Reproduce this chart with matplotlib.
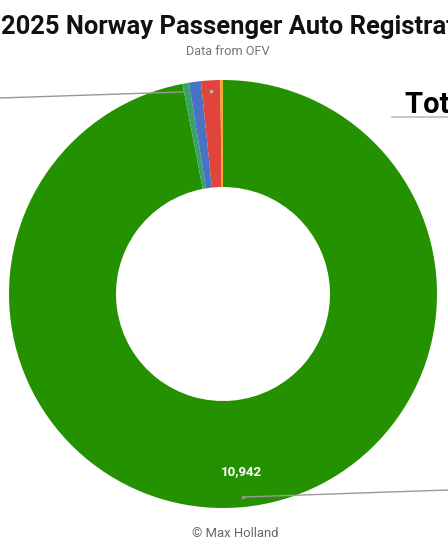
import matplotlib
matplotlib.use("Agg")
import matplotlib.pyplot as plt

# registrations by fuel type
labels = ["BEV", "PHEV", "Hybrid", "Petrol", "Diesel"]
counts = [10942, 55, 101, 163, 23]
colors = ["#249100", "#38a46a", "#4a72c4", "#e0443a", "#f5a623"]

W, H = 448, 560
fig = plt.figure(figsize=(W / 100, H / 100), dpi=100)
ax = fig.add_axes([0, 0, 1, 1])

def Y(py):
    # pixel row -> data y
    return H - py

cx, cy, r = 223, Y(294), 214

wedges, _ = ax.pie(counts, colors=colors, startangle=90, counterclock=False,
                   center=(cx, cy), radius=r, frame=True,
                   wedgeprops=dict(width=r * 0.5, linewidth=0))
ax.set_xlim(0, W)
ax.set_ylim(0, H)
ax.set_aspect("equal")
ax.axis("off")

plt.rcParams["font.family"] = ["Roboto", "DejaVu Sans"]

# title etc.
ax.text(1, Y(34), "2025 Norway Passenger Auto Registrations", fontsize=18.4,
        fontweight="bold", ha="left", va="baseline", color="#111111")
ax.text(228, Y(55), "Data from OFV", fontsize=9.2, ha="center",
        va="baseline", color="#757575")
ax.text(235, Y(537), "\u00a9 Max Holland", fontsize=9.4, ha="center",
        va="baseline", color="#666666")

# value label on the big slice
ax.text(241, Y(472), f"{counts[0]:,}", fontsize=9.5, fontweight="bold",
        ha="center", va="center", color="white")

# leader lines (the small slices sit on top of the left one)
ax.plot([0, 211], [Y(98), Y(91)], color="#999999", lw=1, zorder=0.5)
for w in wedges[1:]:
    w.set_zorder(1)
ax.plot([211], [Y(91)], "o", ms=1.5, color="#bbbbbb", zorder=5)
ax.plot([243, W], [Y(497), Y(490)], color="#999999", lw=1, zorder=5)
ax.plot([243], [Y(497)], "o", ms=1.5, color="#999999", zorder=5)
wedges[0].set_zorder(0.2)

# total box on the right (cut off)
ax.text(405, Y(112), f"Total: {sum(counts):,}", fontsize=21,
        fontweight="bold", ha="left", va="baseline", color="black")
ax.plot([392, W], [Y(117), Y(117)], color="#bbbbbb", lw=1.2)

fig.savefig("out.png", dpi=100)
